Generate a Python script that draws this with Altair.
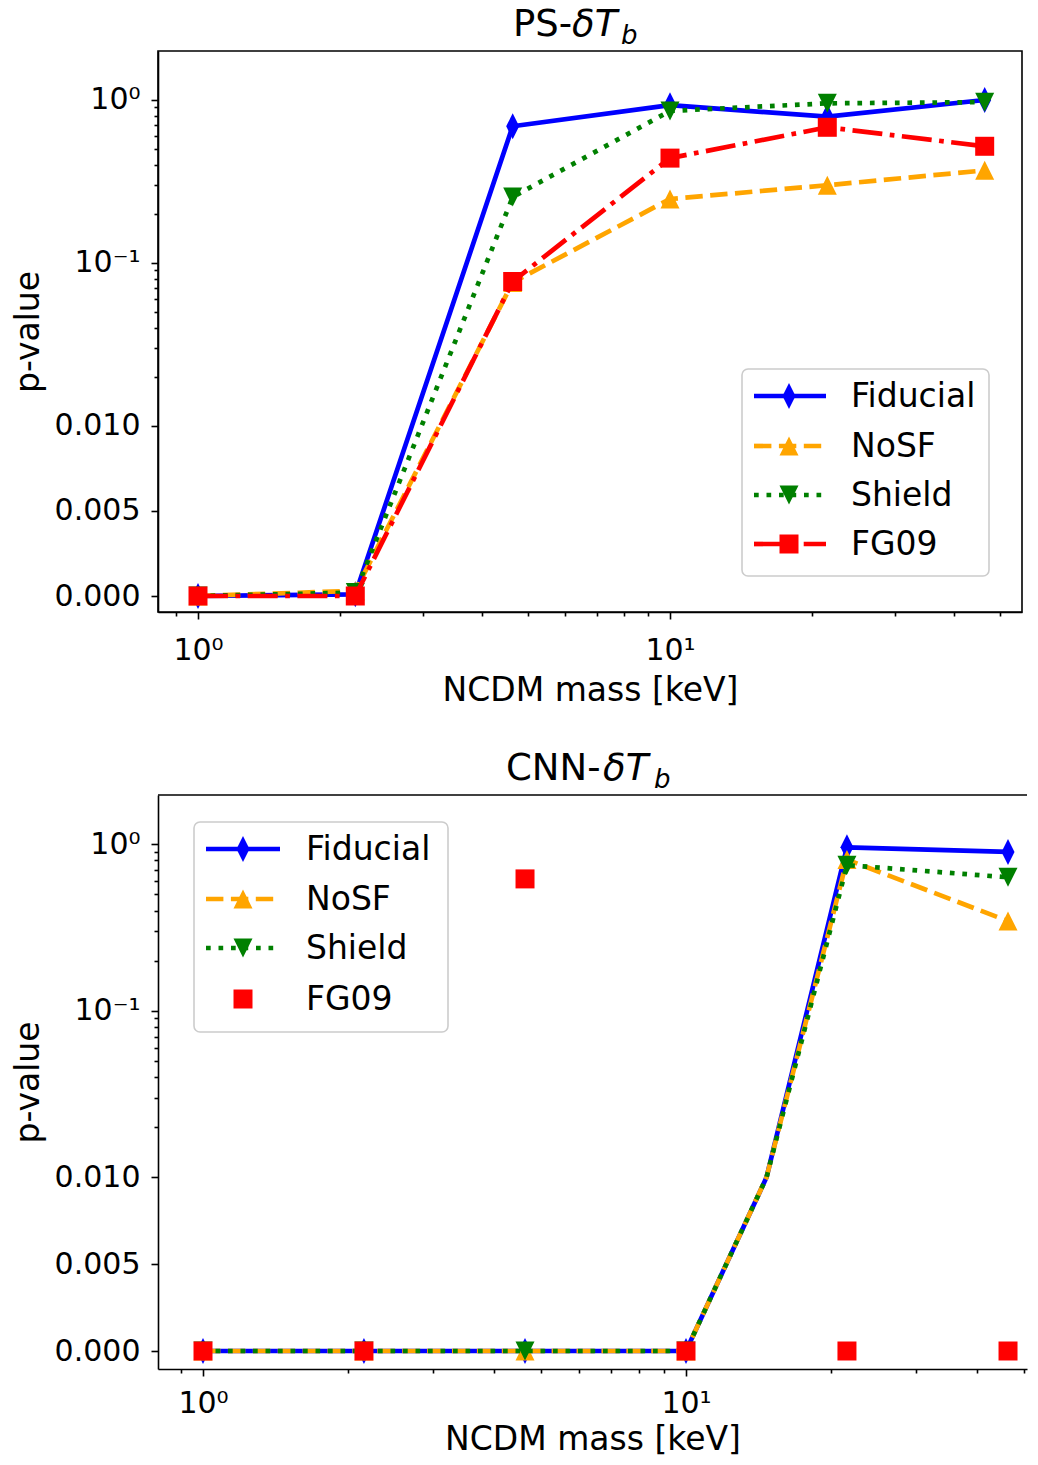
import math
import altair as alt
import pandas as pd

# ---------------- data ----------------
SERIES = ["Fiducial", "NoSF", "Shield", "FG09"]
COLORS = ["blue", "orange", "green", "red"]

mass_ps = [1.0, 2.154, 4.642, 10.0, 21.54, 46.42]
ps_fiducial = [0.0, 0.0001, 0.69, 0.93, 0.79, 1.0]
ps_nosf = [0.0, 0.0003, 0.076, 0.247, 0.30, 0.37]
ps_shield = [0.0, 0.0002, 0.254, 0.857, 0.954, 0.97]
ps_fg09 = [0.0, 0.0, 0.077, 0.44, 0.68, 0.52]
ps_marker = [True, True, True, True, True, True]

mass_cnn = [1.0, 2.154, 4.642, 10.0, 14.68, 21.54, 46.42]
cnn_fiducial = [0.0, 0.0, 0.0, 0.0, 0.01, 0.96, 0.90]
cnn_nosf = [0.0, 0.0, 0.0, 0.0, 0.01, 0.81, 0.346]
cnn_shield = [0.0, 0.0, 0.0, 0.0, 0.01, 0.75, 0.634]
cnn_fg09 = [0.0, 0.0, 0.62, 0.0, None, 0.0, 0.0]
cnn_marker = [True, True, True, True, False, True, True]

x_major = [1, 10]
x_major_labels = ["10\u2070", "10\u00b9"]
x_minor = [0.9, 2, 3, 4, 5, 6, 7, 8, 9, 20, 30, 40, 50]
y_lin_ticks = [0.0, 0.005, 0.01]
y_lin_labels = ["0.000", "0.005", "0.010"]
y_log_ticks = [0.1, 1.0]
y_log_labels = ["10\u207b\u00b9", "10\u2070"]
y_minor = [0.02, 0.03, 0.04, 0.05, 0.06, 0.07, 0.08, 0.09,
           0.2, 0.3, 0.4, 0.5, 0.6, 0.7, 0.8, 0.9]

# ---------------- styling ----------------
LINTHRESH = 0.01
LINSPAN = 1.043  # linear region height measured in decades
LW = 4.7
DASH = {"Fiducial": None, "NoSF": [17.4, 7.5], "Shield": [4.7, 7.8],
        "FG09": [30, 7.5, 4.7, 7.5]}
SHAPE = {"Fiducial": "M0,-1L0.5,0L0,1L-0.5,0Z",
         "NoSF": "M0,-1L1,1L-1,1Z",
         "Shield": "M0,1L1,-1L-1,-1Z",
         "FG09": "square"}
SIZE = {"Fiducial": 676, "NoSF": 361, "Shield": 361, "FG09": 361}
FONT = "DejaVu Sans"


def symlog_t(v):
    if v <= LINTHRESH:
        return v / LINTHRESH * LINSPAN
    return LINSPAN + math.log10(v / LINTHRESH)


T_EXPR = (f"datum.p <= {LINTHRESH} ? datum.p / {LINTHRESH} * {LINSPAN} : "
          f"{LINSPAN} + log(datum.p / {LINTHRESH}) / LN10")


def build_df(mass, lists, markers):
    rows = []
    for name, vals in zip(SERIES, lists):
        for m, v, mk in zip(mass, vals, markers):
            if v is None:
                continue
            rows.append({"mass": m, "p": v, "series": name, "marker": mk})
    return pd.DataFrame(rows)


def near(vals):
    return " || ".join(f"abs(datum.value - {v!r}) < 1e-6" for v in vals)


def label_expr(vals, labels):
    s = "''"
    for v, l in reversed(list(zip(vals, labels))):
        s = f"abs(datum.value - {v!r}) < 1e-6 ? '{l}' : ({s})"
    return s


def x_axis(label_pad, title_pad):
    vals = sorted(x_major + x_minor)
    return alt.Axis(values=vals, labelExpr=label_expr(x_major, x_major_labels),
                    tickSize={"condition": {"test": near(x_major), "value": 7}, "value": 4},
                    labelPadding=label_pad, titlePadding=title_pad, labelOverlap=False,
                    labelFlush=False, grid=False)


def y_axis(title_pad, ymax):
    major_t = [symlog_t(v) for v in y_lin_ticks + y_log_ticks]
    minor_t = [symlog_t(v) for v in y_minor]
    vals = sorted([t for t in major_t + minor_t if t <= ymax])
    return alt.Axis(values=vals,
                    labelExpr=label_expr(major_t, y_lin_labels + y_log_labels),
                    tickSize={"condition": {"test": near(major_t), "value": 7}, "value": 4},
                    labelPadding=11, titlePadding=title_pad, minExtent=104, maxExtent=104,
                    labelOverlap=False, labelFlush=False, grid=False)


DEC = pd.DataFrame({"d": [0]})


def panel(df, width, height, xdom, ydom, xpads, title, legend, line_series, top_rule):
    x_enc = alt.X("mass:Q", scale=alt.Scale(type="log", domain=xdom, nice=False),
                  axis=x_axis(*xpads), title="NCDM mass [keV]")
    y_enc = alt.Y("t:Q", scale=alt.Scale(domain=ydom, nice=False, zero=False),
                  axis=y_axis(9, ydom[1]), title="p-value")
    base = alt.Chart(df).transform_calculate(t=T_EXPR)
    layers = []
    for i, s in enumerate(SERIES):
        sub = base.transform_filter(alt.datum.series == s)
        if s in line_series:
            kw = dict(color=COLORS[i], strokeWidth=LW, strokeCap="butt", strokeJoin="round")
            if DASH[s]:
                kw["strokeDash"] = DASH[s]
            layers.append(sub.mark_line(**kw).encode(x=x_enc, y=y_enc, order="mass:Q"))
        layers.append(sub.transform_filter(alt.datum.marker == True)
                      .mark_point(shape=SHAPE[s], size=SIZE[s], filled=True,
                                  color=COLORS[i], opacity=1)
                      .encode(x=x_enc, y=y_enc))
    if top_rule:
        layers.append(alt.Chart(DEC).mark_rule(color="black", strokeWidth=1.6)
                      .encode(x=alt.value(0), x2=alt.value(width), y=alt.value(0)))
    # title (mixed regular / italic / subscript)
    for txt, tx, ty, fs, italic in title:
        layers.append(alt.Chart(DEC).mark_text(align="left", baseline="alphabetic",
                                               font=FONT, fontSize=fs, color="black",
                                               fontStyle="italic" if italic else "normal")
                      .encode(x=alt.value(tx), y=alt.value(ty), text=alt.value(txt)))
    # legend
    bx0, bx1, by0, by1 = legend["box"]
    layers.append(alt.Chart(DEC).mark_rect(fill="white", fillOpacity=0.8, stroke="#cccccc",
                                           strokeWidth=1.6, cornerRadius=6)
                  .encode(x=alt.value(bx0), x2=alt.value(bx1), y=alt.value(by0), y2=alt.value(by1)))
    hx0, hx1 = legend["handle"]
    for i, s in enumerate(SERIES):
        ry = legend["rows"][i]
        if s in line_series:
            kw = dict(color=COLORS[i], strokeWidth=LW, strokeCap="butt")
            if DASH[s]:
                kw["strokeDash"] = DASH[s]
            layers.append(alt.Chart(DEC).mark_rule(**kw)
                          .encode(x=alt.value(hx0), x2=alt.value(hx1), y=alt.value(ry)))
        layers.append(alt.Chart(DEC).mark_point(shape=SHAPE[s], size=SIZE[s], filled=True,
                                                color=COLORS[i], opacity=1)
                      .encode(x=alt.value(legend["marker"]), y=alt.value(ry)))
        layers.append(alt.Chart(DEC).mark_text(align="left", baseline="middle", font=FONT,
                                               fontSize=33, color="black")
                      .encode(x=alt.value(legend["text"]), y=alt.value(ry + 1), text=alt.value(s)))
    return alt.layer(*layers)


df_ps = build_df(mass_ps, [ps_fiducial, ps_nosf, ps_shield, ps_fg09], ps_marker)
df_cnn = build_df(mass_cnn, [cnn_fiducial, cnn_nosf, cnn_shield, cnn_fg09], cnn_marker)

# plot areas: both start at x=157 (page coords); keep the page inside the window
TW, TH = 864, 561
BW, BH = 869, 574
TOFF, BOFF = 40, 45          # pixels from left edge to mass = 1
top_xdom = [10 ** (-TOFF / 472), 10 ** ((TW - TOFF) / 472)]
bot_xdom = [10 ** (-BOFF / 483), 10 ** ((BW - BOFF) / 483)]
top_ydom = [-16 / 163, -16 / 163 + TH / 163]
bot_ydom = [-18 / 166.5, -18 / 166.5 + BH / 166.5]

TFS, SFS = 37, 26
top_title = [("PS-", 355, -15, TFS, False), ("\u03b4T", 414, -15, TFS, True),
             ("b", 463, -7, SFS, True)]
bot_title = [("CNN-", 348, -15, TFS, False), ("\u03b4T", 445, -15, TFS, True),
             ("b", 496, -7, SFS, True)]

top_legend = {"box": (584, 831, 318, 525), "rows": [345, 395, 444, 493],
              "handle": (596, 668), "marker": 631, "text": 693}
bot_legend = {"box": (36, 290, 27, 237), "rows": [54, 104, 153, 204],
              "handle": (48, 122), "marker": 85, "text": 148}

top = panel(df_ps, TW, TH, top_xdom, top_ydom, (16, 9), top_title, top_legend,
            SERIES, False).properties(width=TW, height=TH)
bottom = panel(df_cnn, BW, BH, bot_xdom, bot_ydom, (12, 5), bot_title, bot_legend,
               ["Fiducial", "NoSF", "Shield"], True).properties(
    width=BW, height=BH, view=alt.ViewBackground(stroke="transparent"))

chart = alt.vconcat(top, bottom, spacing=41).properties(
    padding={"top": -3, "left": 3, "right": 0, "bottom": 0}
).configure_axis(
    domainColor="black", domainWidth=1.6, tickColor="black", tickWidth=1.6,
    labelColor="black", titleColor="black", labelFont=FONT, titleFont=FONT,
    labelFontSize=30, titleFontSize=33, titleFontWeight="normal"
).configure_view(stroke="black", strokeWidth=1.6).configure_text(font=FONT)

chart.save("out.html", embed_options={"renderer": "svg", "actions": False})
